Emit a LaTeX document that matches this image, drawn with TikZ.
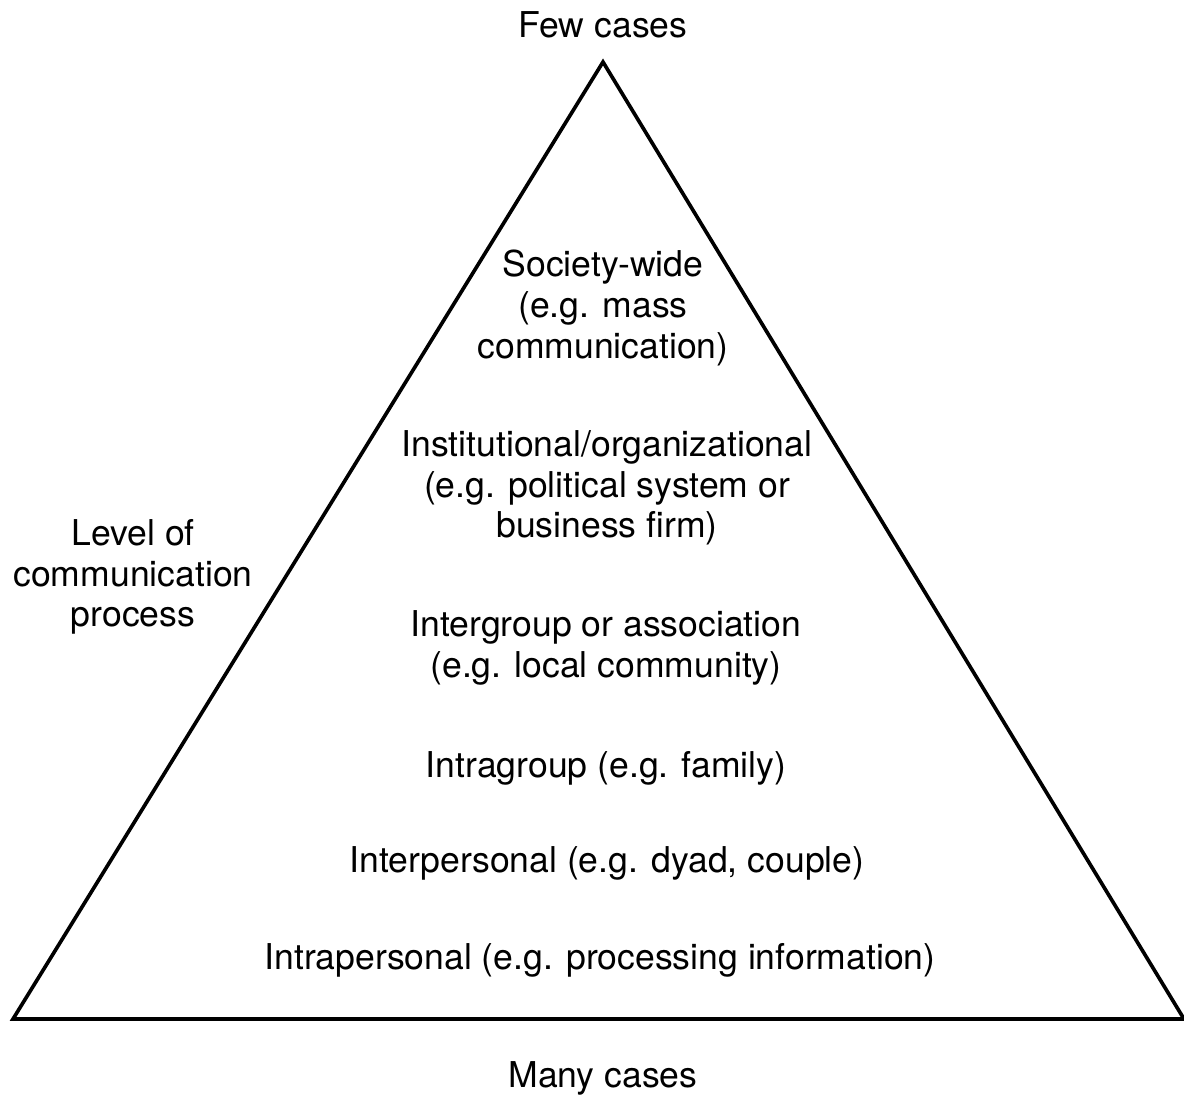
\documentclass[tikz,border=0pt]{standalone}
\usepackage{fontspec}
\setmainfont{TeX Gyre Heros}
\usepackage{tikz}

\begin{document}
\begin{tikzpicture}[x=0.025cm,y=-0.025cm,
    lvl/.style={align=center,font=\fontsize{25.3}{29}\selectfont,inner sep=0pt}]
      % ---- page frame ---------------------------------
      \useasboundingbox (0,0) rectangle (1184,1098);

      % ---- the pyramid --------------------------------
      \coordinate (top)   at (603,62);
      \coordinate (left)  at (13,1019);
      \coordinate (right) at (1184,1019);
      \draw[line width=2.6pt,line join=miter] (left) -- (top) -- (right) -- cycle;

      % ---- levels inside the pyramid ------------------
      \node[lvl] (society) at (603,308) {Society-wide\\(e.g. mass\\communication)};
      \node[lvl] (institution) at (607,488) {Institutional/organizational\\(e.g. political system or\\business firm)};
      \node[lvl] (intergroup) at (606,648) {Intergroup or association\\(e.g. local community)};
      \node[lvl] (intragroup) at (606,768) {Intragroup (e.g. family)};
      \node[lvl] (interpersonal) at (607,863) {Interpersonal (e.g. dyad, couple)};
      \node[lvl] (intrapersonal) at (600,960) {Intrapersonal (e.g. processing information)};

      % ---- labels outside the pyramid -----------------
      \node[lvl] (few)  at (603,25)   {Few cases};
      \node[lvl] (many) at (603,1078) {Many cases};
      \node[lvl] (axis) at (133,577)  {Level of\\communication\\process};
\end{tikzpicture}
\end{document}
